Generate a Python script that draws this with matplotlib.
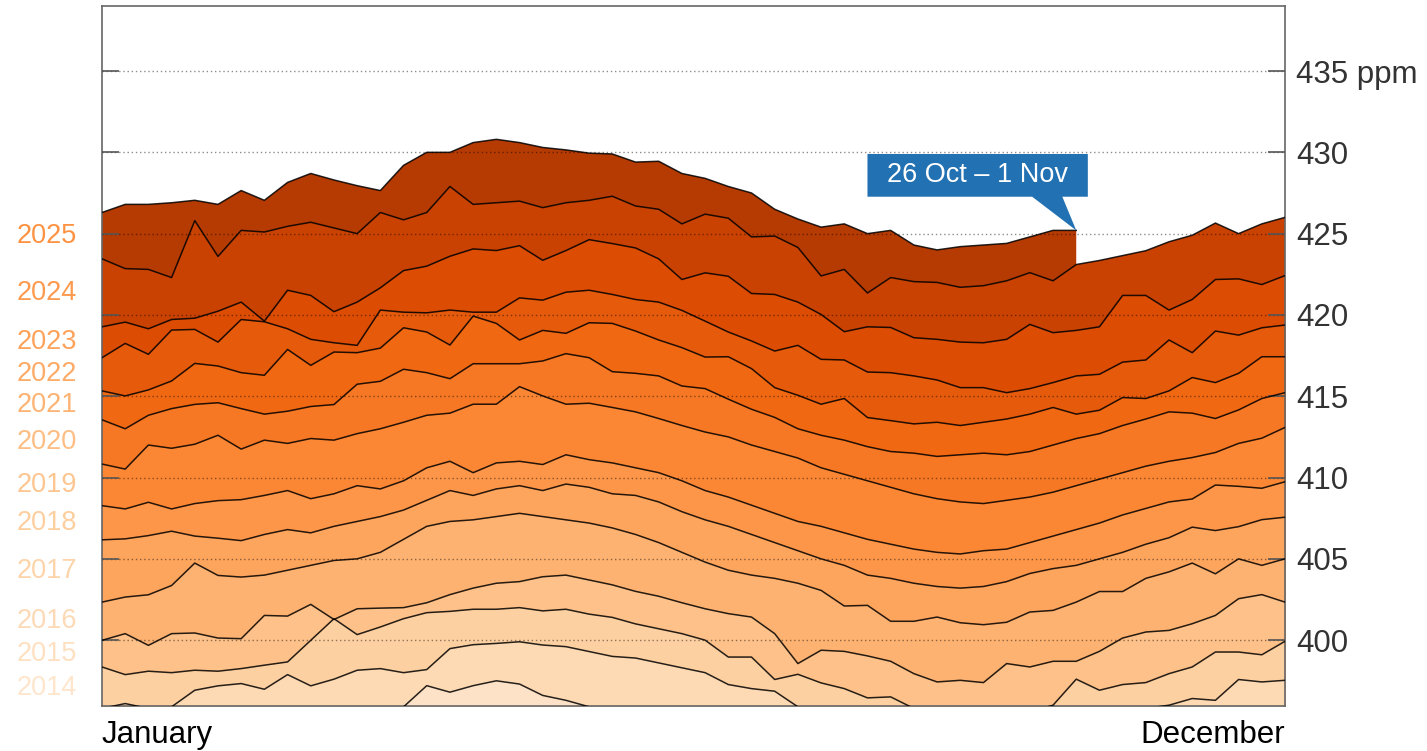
import numpy as np
import matplotlib
matplotlib.use("Agg")
import matplotlib.pyplot as plt
import matplotlib.transforms as mtransforms
from matplotlib.patches import Polygon

plt.rcParams['font.family'] = ['Liberation Sans', 'DejaVu Sans']

# weekly CO2 (ppm), one list per year, Jan -> Dec
y2012 = [393.0, 393.1, 393.3, 393.5, 393.7, 393.9, 394.0, 394.2, 394.1, 394.4, 394.6, 395.0, 395.4,
         395.9, 397.2, 396.8, 397.2, 397.5, 397.3, 396.6, 396.3, 395.9, 395.6, 395.4, 395.2, 394.8,
         394.3, 393.8, 393.4, 392.9, 392.4, 392.0, 391.6, 391.3, 391.0, 390.9, 390.8, 390.9, 391.0,
         391.1, 391.3, 391.6, 391.9, 392.2, 392.5, 392.8, 393.0, 393.3, 393.5, 393.7, 393.9, 394.0]
y2013 = [395.8, 396.1, 395.8, 395.9, 396.92, 397.19, 397.33, 396.98, 397.88, 397.19, 397.6, 398.15, 398.25,
         398.0, 398.19, 399.48, 399.72, 399.8, 399.9, 399.7, 399.6, 399.3, 399.0, 398.9, 398.6, 398.3,
         398.0, 397.27, 397.02, 396.86, 395.9, 395.5, 395.0, 394.6, 394.3, 394.0, 393.8, 393.6, 393.6,
         393.8, 394.1, 394.5, 394.9, 395.2, 395.5, 395.8, 396.0, 396.41, 396.3, 397.58, 397.43, 397.53]
y2014 = [398.35, 397.88, 398.09, 398.0, 398.15, 398.09, 398.25, 398.46, 398.66, 399.99, 401.32, 400.34, 400.81,
         401.32, 401.69, 401.77, 401.9, 401.9, 402.0, 401.8, 401.9, 401.6, 401.4, 401.0, 400.7, 400.4,
         400.0, 398.96, 398.96, 397.58, 397.9, 397.37, 397.02, 396.45, 396.51, 395.8, 395.5, 395.3, 395.3,
         395.4, 395.6, 396.0, 397.6, 396.92, 397.27, 397.39, 397.94, 398.35, 399.27, 399.27, 399.1, 399.93]
y2015 = [399.99, 400.4, 399.68, 400.4, 400.44, 400.13, 400.09, 401.52, 401.48, 402.2, 401.27, 401.93, 401.97,
         402.0, 402.3, 402.8, 403.2, 403.5, 403.6, 403.9, 404.0, 403.7, 403.4, 403.0, 402.7, 402.3,
         401.93, 401.63, 401.42, 400.4, 398.56, 399.38, 399.31, 399.03, 398.7, 397.94, 397.43, 397.53, 397.39,
         398.56, 398.35, 398.7, 398.7, 399.31, 400.13, 400.5, 400.6, 401.01, 401.52, 402.55, 402.8, 402.34]
y2016 = [402.34, 402.65, 402.79, 403.36, 404.74, 403.98, 403.88, 404.0, 404.3, 404.6, 404.9, 405.0, 405.4,
         406.2, 407.0, 407.3, 407.4, 407.6, 407.8, 407.6, 407.4, 407.2, 406.9, 406.5, 406.0, 405.4,
         404.8, 404.3, 404.0, 403.8, 403.5, 403.06, 402.1, 402.14, 401.16, 401.16, 401.42, 401.07, 400.95,
         401.1, 401.73, 401.83, 402.34, 402.99, 402.99, 403.8, 404.2, 404.74, 404.08, 405.0, 404.6, 405.0]
y2017 = [406.17, 406.23, 406.43, 406.7, 406.4, 406.27, 406.12, 406.5, 406.8, 406.6, 407.0, 407.3, 407.6,
         408.0, 408.6, 409.2, 408.9, 409.3, 409.5, 409.2, 409.6, 409.4, 409.0, 408.9, 408.5, 407.9,
         407.4, 407.0, 406.5, 406.0, 405.5, 405.0, 404.6, 404.0, 403.8, 403.5, 403.3, 403.2, 403.3,
         403.6, 404.1, 404.4, 404.6, 405.0, 405.4, 405.9, 406.3, 406.95, 406.74, 406.98, 407.41, 407.56]
y2018 = [408.27, 408.07, 408.48, 408.07, 408.4, 408.58, 408.64, 408.9, 409.2, 408.7, 409.0, 409.5, 409.3,
         409.8, 410.6, 411.0, 410.3, 410.9, 411.0, 410.8, 411.4, 411.1, 410.9, 410.6, 410.3, 409.8,
         409.2, 408.8, 408.3, 407.8, 407.3, 407.0, 406.6, 406.2, 405.9, 405.6, 405.4, 405.3, 405.5,
         405.6, 406.0, 406.4, 406.8, 407.2, 407.7, 408.1, 408.5, 408.68, 409.54, 409.46, 409.34, 409.74]
y2019 = [410.83, 410.52, 412.0, 411.8, 412.05, 412.6, 411.75, 412.3, 412.1, 412.4, 412.3, 412.7, 413.0,
         413.4, 413.83, 413.96, 414.51, 414.51, 415.59, 415.02, 414.51, 414.57, 414.31, 414.04, 413.63, 413.2,
         412.8, 412.5, 412.0, 411.6, 411.2, 410.6, 410.2, 409.8, 409.4, 409.0, 408.7, 408.5, 408.4,
         408.6, 408.8, 409.1, 409.5, 409.9, 410.3, 410.7, 411.0, 411.23, 411.54, 412.1, 412.42, 413.08]
y2020 = [413.55, 413.0, 413.83, 414.24, 414.5, 414.6, 414.24, 413.9, 414.08, 414.37, 414.49, 415.74, 415.92,
         416.66, 416.45, 416.08, 417.0, 417.0, 417.0, 417.17, 417.62, 417.37, 416.51, 416.41, 416.25, 415.63,
         415.47, 414.82, 414.2, 413.7, 413.0, 412.6, 412.3, 411.9, 411.6, 411.5, 411.3, 411.4, 411.5,
         411.4, 411.6, 412.0, 412.4, 412.7, 413.2, 413.6, 414.04, 413.96, 413.63, 414.16, 414.86, 415.22]
y2021 = [415.33, 415.02, 415.39, 415.94, 417.02, 416.86, 416.45, 416.29, 417.88, 416.9, 417.72, 417.68, 417.96,
         419.21, 418.95, 418.15, 419.93, 419.48, 418.46, 419.05, 418.87, 419.52, 419.48, 419.01, 418.46, 417.99,
         417.41, 417.43, 416.7, 415.53, 415.06, 414.51, 414.86, 413.69, 413.5, 413.3, 413.4, 413.2, 413.4,
         413.6, 413.9, 414.31, 413.9, 414.14, 414.92, 414.86, 415.33, 416.15, 415.84, 416.41, 417.43, 417.43]
y2022 = [417.37, 418.25, 417.58, 419.07, 419.11, 418.33, 419.72, 419.58, 419.15, 418.5, 418.29, 418.13, 420.3,
         420.17, 420.13, 420.3, 420.17, 420.17, 421.05, 420.91, 421.4, 421.52, 421.26, 420.95, 420.79, 420.28,
         419.62, 418.95, 418.4, 417.78, 418.13, 417.27, 417.23, 416.49, 416.45, 416.25, 416.0, 415.53, 415.53,
         415.22, 415.47, 415.84, 416.25, 416.35, 417.1, 417.23, 418.46, 417.68, 419.01, 418.76, 419.21, 419.38]
y2023 = [419.27, 419.56, 419.15, 419.72, 419.8, 420.23, 420.79, 419.62, 421.52, 421.2, 420.2, 420.79, 421.67,
         422.73, 423.0, 423.61, 424.06, 423.96, 424.26, 423.36, 423.96, 424.63, 424.39, 424.12, 423.45, 422.18,
         422.59, 422.38, 421.32, 421.26, 420.79, 420.03, 418.97, 419.27, 419.23, 418.6, 418.5, 418.33, 418.29,
         418.5, 419.42, 418.91, 419.05, 419.27, 421.2, 421.2, 420.3, 420.95, 422.18, 422.22, 421.87, 422.42]
y2024 = [423.45, 422.85, 422.8, 422.3, 425.8, 423.6, 425.2, 425.1, 425.45, 425.7, 425.35, 425.0, 426.3,
         425.85, 426.3, 427.9, 426.8, 426.9, 427.0, 426.6, 426.9, 427.05, 427.3, 426.7, 426.5, 425.6,
         426.2, 425.95, 424.8, 424.85, 424.15, 422.4, 422.8, 421.35, 422.3, 422.05, 422.0, 421.7, 421.8,
         422.1, 422.6, 422.1, 423.1, 423.35, 423.65, 423.95, 424.5, 424.9, 425.65, 425.0, 425.6, 426.0]
y2025 = [426.3, 426.8, 426.8, 426.9, 427.05, 426.8, 427.65, 427.05, 428.15, 428.7, 428.3, 427.95, 427.65,
         429.2, 430.0, 430.0, 430.6, 430.8, 430.6, 430.3, 430.15, 429.95, 429.9, 429.4, 429.45, 428.7,
         428.4, 427.9, 427.5, 426.5, 425.9, 425.4, 425.6, 425.0, 425.2, 424.3, 424.0, 424.2, 424.3,
         424.4, 424.8, 425.2, 425.2]

years = list(range(2012, 2026))
series = [y2012, y2013, y2014, y2015, y2016, y2017, y2018, y2019, y2020, y2021, y2022, y2023, y2024, y2025]
first_label_year = 2014
yticks = [400, 405, 410, 415, 420, 425, 430, 435]
ytick_labels = ['400', '405', '410', '415', '420', '425', '430', '435 ppm']
latest_week = '26 Oct – 1 Nov'

weeks = np.arange(52)
shade = 0.2 + (np.array(years) - 2013) * 0.0533
fill_cols = plt.cm.Oranges(shade)
label_cols = plt.cm.Oranges(0.1 + (shade - 0.2) * 0.6)

fig = plt.figure(figsize=(14.27, 7.51), dpi=100)
ax = fig.add_axes([102 / 1427, 45 / 751, 1183 / 1427, 700 / 751])

# newest first so that older years paint over the lower part
for i in reversed(range(len(years))):
    vals = series[i]
    ax.fill_between(weeks[:len(vals)], vals, 380, color=fill_cols[i], lw=0, zorder=1)
for i in range(len(years)):
    vals = series[i]
    ax.plot(weeks[:len(vals)], vals, color='black', lw=1.1, alpha=0.85, zorder=3)

ax.set_xlim(0, 51)
ax.set_ylim(395.95, 439.0)
ax.set_xticks([])
ax.set_yticks(yticks)
ax.set_yticklabels(ytick_labels)
ax.grid(axis='y', color='black', alpha=0.45, linestyle=(0, (1, 2)), linewidth=1)
ax.set_axisbelow(False)
ax.tick_params(axis='y', left=True, right=True, labelleft=False, labelright=True,
               direction='in', length=12, width=1.2, color='#555555',
               labelsize=22.5, labelcolor='#333333', pad=8)
for s in ax.spines.values():
    s.set_color('#666666')
    s.set_linewidth(1.2)

ax.text(0, -0.02, 'January', transform=ax.transAxes, ha='left', va='top', fontsize=22.5)
ax.text(1, -0.02, 'December', transform=ax.transAxes, ha='right', va='top', fontsize=22.5)

# year labels at the middle of each band at the start of the year
trans = mtransforms.blended_transform_factory(ax.transAxes, ax.transData)
for i in range(1, len(years)):
    if years[i] < first_label_year:
        continue
    ymid = (series[i][0] + series[i - 1][0]) / 2
    ax.text(-0.021, ymid, str(years[i]), transform=trans, ha='right', va='center',
            fontsize=19.5, color=label_cols[i])

# callout for the latest week
tx = len(y2025) - 1
ty = y2025[-1]
left, right = tx - 9.0, tx + 0.5
bottom, top = ty + 2.07, ty + 4.7
callout = Polygon([(left, bottom), (tx - 1.9, bottom), (tx, ty), (tx - 0.6, bottom),
                   (right, bottom), (right, top), (left, top)],
                  closed=True, facecolor='#2271b3', edgecolor='none', zorder=5)
ax.add_patch(callout)
ax.text((left + right) / 2, (bottom + top) / 2, latest_week, color='white',
        fontsize=19.5, ha='center', va='center', zorder=6)

fig.savefig('out.png', dpi=100)
